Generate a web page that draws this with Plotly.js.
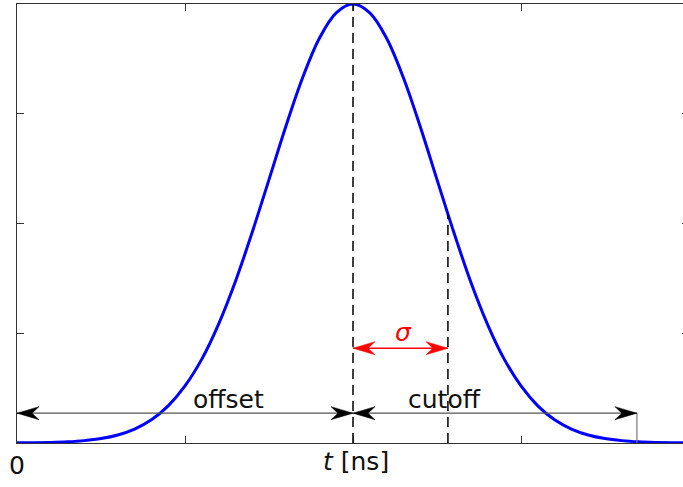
<!DOCTYPE html>
<html>
<head>
<meta charset="utf-8">
<script src="https://cdn.plot.ly/plotly-3.0.1.min.js"></script>
<style>
  html, body { margin: 0; padding: 0; overflow: hidden; background: #fff; }
  #chart { width: 690px; height: 487px; }
</style>
</head>
<body>
<div id="chart"></div>
<script>
// Gaussian pulse samples (time axis in tick units, amplitude normalised)
const tValues = [
  0.0, 0.1, 0.2, 0.3, 0.4, 0.5, 0.6, 0.7, 0.8, 0.9,
  1.0, 1.1, 1.2, 1.3, 1.4, 1.5, 1.6, 1.7, 1.8, 1.9,
  2.0, 2.1, 2.2, 2.3, 2.4, 2.5, 2.6, 2.7, 2.8, 2.9,
  3.0, 3.1, 3.2, 3.3, 3.4, 3.5, 3.6, 3.7, 3.8, 3.9, 4.0
];
const pulseValues = [
  0.0003, 0.0006, 0.0013, 0.0027, 0.0054, 0.0101, 0.0183, 0.0318, 0.0529, 0.0847,
  0.130, 0.191, 0.271, 0.368, 0.480, 0.600, 0.721, 0.832, 0.922, 0.980,
  1.000, 0.980, 0.922, 0.832, 0.721, 0.600, 0.480, 0.368, 0.271, 0.191,
  0.130, 0.0847, 0.0529, 0.0318, 0.0183, 0.0101, 0.0054, 0.0027, 0.0013, 0.0006, 0.0003
];

// annotation geometry (data units)
const startTime = 0.0;
const peakTime = 2.0;
const sigmaEnd = 2.565;
const sigmaEndLevel = 0.521;
const cutoffEnd = 3.69;
const arrowLevel = 0.068;
const sigmaLevel = 0.216;

const xTickVals = [0, 1, 2, 3, 4];
const xTickText = ['0', '', '', '', ''];
const yTickVals = [0, 0.25, 0.5, 0.75, 1];
const xTitle = '<i>t</i> [ns]';

const FONT = 'DejaVu Sans, Verdana, sans-serif';
const TEXT_SIZE = 25;
const AXIS = '#333333';

// concave arrowhead drawn in pixel units around an anchor point
function arrowHead(x, y, dir, color) {
  const L = 22, N = 15, H = 6.5;
  const s = dir;  // +1 points right, -1 points left
  return {
    type: 'path', xref: 'x', yref: 'y',
    xsizemode: 'pixel', ysizemode: 'pixel',
    xanchor: x, yanchor: y,
    path: `M0,0 L${-s * L},${H} L${-s * N},0 L${-s * L},${-H} Z`,
    fillcolor: color, line: { color: color, width: 0.5 },
    layer: 'above'
  };
}

function seg(x0, y0, x1, y1, color, width, dash) {
  return {
    type: 'line', xref: 'x', yref: 'y',
    x0: x0, y0: y0, x1: x1, y1: y1,
    line: { color: color, width: width, dash: dash || 'solid' },
    layer: 'above'
  };
}

const shapes = [
  // dashed markers at the peak and at one sigma
  seg(peakTime, 0, peakTime, 1, '#000', 1.5, '10px,6px'),
  seg(sigmaEnd, 0, sigmaEnd, sigmaEndLevel, '#000', 1.5, '10px,6px'),
  // offset / cutoff baseline and end tick
  seg(startTime, arrowLevel, cutoffEnd, arrowLevel, '#555', 1.3),
  seg(cutoffEnd, 0, cutoffEnd, arrowLevel, '#777', 1.2),
  // sigma span
  seg(peakTime, sigmaLevel, sigmaEnd, sigmaLevel, '#ff0000', 1.5),
  arrowHead(startTime, arrowLevel, -1, '#000'),
  arrowHead(peakTime, arrowLevel, 1, '#000'),
  arrowHead(peakTime, arrowLevel, -1, '#000'),
  arrowHead(cutoffEnd, arrowLevel, 1, '#000'),
  arrowHead(peakTime, sigmaLevel, -1, '#ff0000'),
  arrowHead(sigmaEnd, sigmaLevel, 1, '#ff0000')
];

const textFont = { family: FONT, size: TEXT_SIZE, color: '#111' };

const annotations = [
  { x: 1.26, y: 0.098, xref: 'x', yref: 'y', text: 'offset', showarrow: false, font: textFont },
  { x: 2.545, y: 0.098, xref: 'x', yref: 'y', text: 'cutoff', showarrow: false, font: textFont },
  { x: 2.30, y: 0.251, xref: 'x', yref: 'y', text: '<i>σ</i>', showarrow: false,
    font: { family: FONT, size: TEXT_SIZE, color: '#ff0000' } },
  // time-axis title, set just under the axis
  { x: 2.02, y: -0.043, xref: 'x', yref: 'paper', yanchor: 'middle', text: xTitle,
    showarrow: false, font: textFont }
];

const trace = {
  x: tValues, y: pulseValues, type: 'scatter', mode: 'lines',
  line: { color: '#0000ff', width: 3, shape: 'spline', smoothing: 1 },
  hoverinfo: 'skip'
};

const layout = {
  width: 690, height: 487,
  margin: { l: 17, r: 1, t: 4, b: 44 },
  paper_bgcolor: '#fff', plot_bgcolor: '#fff',
  showlegend: false,
  xaxis: {
    range: [0, 4], showgrid: false, zeroline: false,
    showline: true, linecolor: AXIS, linewidth: 1, mirror: 'allticks',
    ticks: 'inside', ticklen: 7, tickcolor: AXIS, tickwidth: 1,
    tickvals: xTickVals, ticktext: xTickText,
    tickfont: textFont,
    fixedrange: true
  },
  yaxis: {
    range: [0, 1], showgrid: false, zeroline: false,
    showline: true, linecolor: AXIS, linewidth: 1, mirror: 'allticks',
    ticks: 'inside', ticklen: 7, tickcolor: AXIS, tickwidth: 1,
    tickvals: yTickVals, showticklabels: false,
    fixedrange: true
  },
  shapes: shapes,
  annotations: annotations
};

Plotly.newPlot('chart', [trace], layout, { staticPlot: true, displayModeBar: false });
</script>
</body>
</html>
